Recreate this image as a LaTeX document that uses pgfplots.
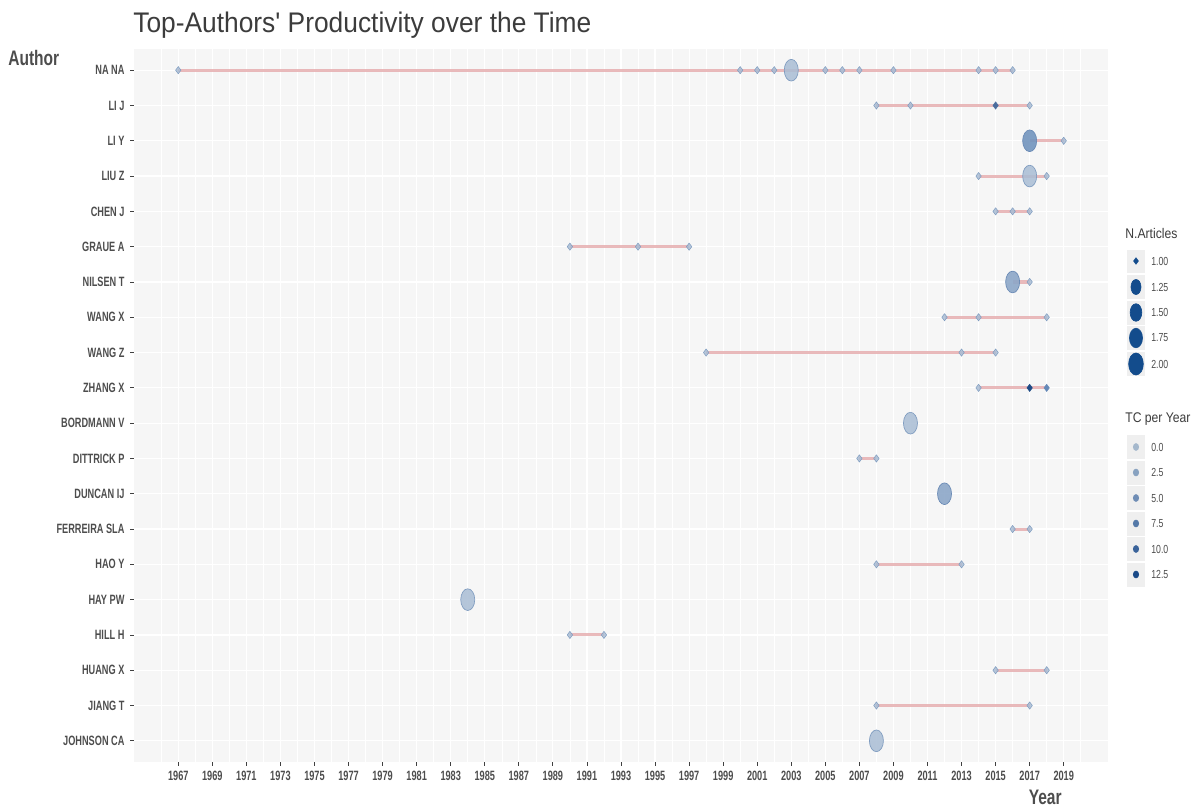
\documentclass[border=0pt]{standalone}
\usepackage{pgfplots}
\pgfplotsset{compat=1.18}
\usepackage{fontspec}
\setmainfont{Liberation Sans}
\newfontface\tickfont[FakeStretch=0.68]{Liberation Sans Bold}
\newfontface\axtitlefont[FakeStretch=0.74]{Liberation Sans Bold}
\newfontface\titlefont[FakeStretch=0.93,Ligatures=TeXOff]{Liberation Sans}
\newfontface\legtitlefont[FakeStretch=0.87]{Liberation Sans}
\newfontface\leglabfont[FakeStretch=0.75]{Liberation Sans}
\definecolor{panelbg}{HTML}{F6F6F6}
\definecolor{tickgray}{HTML}{4D4D4D}
\definecolor{titlegray}{HTML}{3C3C3C}
\definecolor{segpink}{HTML}{E6AEB0}
\definecolor{ptlight}{HTML}{A9BDD4}
\definecolor{ptlightb}{HTML}{7F9CC0}
\definecolor{ptmed}{HTML}{8CA7C8}
\definecolor{ptmedb}{HTML}{6A8AB5}
\definecolor{ptmedd}{HTML}{7395BE}
\definecolor{ptdarka}{HTML}{4B6D9E}
\definecolor{ptdarkb}{HTML}{1E4B86}
\definecolor{ptdarkc}{HTML}{6589B8}
\definecolor{legblue}{HTML}{134C8C}
\definecolor{keybg}{HTML}{EFEFEF}
\definecolor{tca}{HTML}{A5B8CC}
\definecolor{tcb}{HTML}{88A2C0}
\definecolor{tcc}{HTML}{6F8DB5}
\definecolor{tcd}{HTML}{5479A8}
\definecolor{tce}{HTML}{3A639A}
\definecolor{tcf}{HTML}{1A4A88}
\begin{document}
\begin{tikzpicture}[x=0.6pt,y=0.6pt]
\useasboundingbox (0,0) rectangle (1201,806);
\begin{axis}[
  at={(80.4pt,26.4pt)}, anchor=south west,
  scale only axis, width=584.4pt, height=427.8pt,
  xmin=1964.4, xmax=2021.6,
  ymin=-0.6, ymax=19.6, y dir=reverse,
  xtick={1967,1969,...,2019},
  minor xtick={1966,1968,...,2020},
  ytick={0,...,19},
  yticklabels={NA NA,LI J,LI Y,LIU Z,CHEN J,GRAUE A,NILSEN T,WANG X,WANG Z,ZHANG X,BORDMANN V,DITTRICK P,DUNCAN IJ,FERREIRA SLA,HAO Y,HAY PW,HILL H,HUANG X,JIANG T,JOHNSON CA},
  grid=both,
  major grid style={white, line width=0.7pt},
  minor grid style={white, line width=0.35pt},
  axis background/.style={fill=panelbg},
  axis line style={draw=none},
  tick align=outside,
  major tick length=2.2pt,
  minor tick length=0pt,
  tick style={color=black!75, line width=0.5pt},
  xtick pos=left, ytick pos=left,
  xticklabel style={font=\tickfont\fontsize{8.1}{9}\selectfont, text=tickgray, /pgf/number format/1000 sep={}, /pgf/number format/assume math mode=true},
  yticklabel style={font=\tickfont\fontsize{8.1}{9}\selectfont, text=tickgray},
  unbounded coords=jump,
]
% segments first to last year
\addplot[segpink, line width=1.85pt, opacity=0.85, no markers] coordinates {
(1967,0) (2016,0) (2016,nan)
(2008,1) (2017,1) (2017,nan)
(2017,2) (2019,2) (2019,nan)
(2014,3) (2018,3) (2018,nan)
(2015,4) (2017,4) (2017,nan)
(1990,5) (1997,5) (1997,nan)
(2016,6) (2017,6) (2017,nan)
(2012,7) (2018,7) (2018,nan)
(1998,8) (2015,8) (2015,nan)
(2014,9) (2018,9) (2018,nan)
(2007,11) (2008,11) (2008,nan)
(2016,13) (2017,13) (2017,nan)
(2008,14) (2013,14) (2013,nan)
(1990,16) (1992,16) (1992,nan)
(2015,17) (2018,17) (2018,nan)
(2008,18) (2017,18)
};
% one article, low TC per year
\addplot[only marks, mark=diamond*, mark size=2.16pt, mark options={fill=ptlight, draw=ptlightb, line width=0.3pt, fill opacity=0.85}] coordinates {
(1967,0) (2000,0) (2001,0) (2002,0) (2005,0) (2006,0) (2007,0) (2009,0) (2014,0) (2015,0) (2016,0)
(2008,1) (2010,1) (2017,1)
(2019,2)
(2014,3) (2018,3)
(2015,4) (2016,4) (2017,4)
(1990,5) (1994,5) (1997,5)
(2017,6)
(2012,7) (2014,7) (2018,7)
(1998,8) (2013,8) (2015,8)
(2014,9)
(2007,11) (2008,11)
(2016,13) (2017,13)
(2008,14) (2013,14)
(1990,16) (1992,16)
(2015,17) (2018,17)
(2008,18) (2017,18)
};
% one article, higher TC per year
\addplot[only marks, mark=diamond*, mark size=2.16pt, mark options={fill=ptdarka, draw=ptdarka, line width=0.3pt}] coordinates {(2015,1)};
\addplot[only marks, mark=diamond*, mark size=2.16pt, mark options={fill=ptdarkb, draw=ptdarkb, line width=0.3pt}] coordinates {(2017,9)};
\addplot[only marks, mark=diamond*, mark size=2.16pt, mark options={fill=ptdarkc, draw=ptdarkc, line width=0.3pt}] coordinates {(2018,9)};
% two articles
\addplot[only marks, mark=*, mark size=4.2pt, mark options={yscale=1.55, fill=ptlight, draw=ptlightb, line width=0.4pt, fill opacity=0.85}] coordinates {
(2003,0) (2017,3) (2010,10) (1984,15) (2008,19)
};
\addplot[only marks, mark=*, mark size=4.2pt, mark options={yscale=1.55, fill=ptmed, draw=ptmedb, line width=0.4pt, fill opacity=0.9}] coordinates {
(2016,6) (2012,12)
};
\addplot[only marks, mark=*, mark size=4.2pt, mark options={yscale=1.55, fill=ptmedd, draw=ptmedb, line width=0.4pt, fill opacity=0.9}] coordinates {
(2017,2)
};
\end{axis}
% legend
\begin{axis}[
  at={(672pt,129.6pt)}, anchor=south west,
  scale only axis, width=48pt, height=222pt,
  xmin=1120, xmax=1200, ymin=220, ymax=590, y dir=reverse,
  hide axis, clip=false,
]
\node[anchor=west, inner sep=0, font=\legtitlefont\fontsize{8.4}{10}\selectfont, text=titlegray] at (axis cs:1125,233) {N.Articles};
\fill[keybg] (axis cs:1127,249.5) rectangle (axis cs:1145,273);
\fill[keybg] (axis cs:1127,275) rectangle (axis cs:1145,299);
\fill[keybg] (axis cs:1127,300.5) rectangle (axis cs:1145,324.5);
\fill[keybg] (axis cs:1127,326) rectangle (axis cs:1145,350);
\fill[keybg] (axis cs:1127,351.5) rectangle (axis cs:1145,376);
\addplot[only marks, mark=diamond*, mark size=1.9pt, color=legblue] coordinates {(1136,261)};
\addplot[only marks, mark=*, mark size=3.0pt, mark options={yscale=1.5}, color=legblue] coordinates {(1136,287)};
\addplot[only marks, mark=*, mark size=3.5pt, mark options={yscale=1.5}, color=legblue] coordinates {(1136,312.5)};
\addplot[only marks, mark=*, mark size=3.9pt, mark options={yscale=1.5}, color=legblue] coordinates {(1136,338)};
\addplot[only marks, mark=*, mark size=4.4pt, mark options={yscale=1.5}, color=legblue] coordinates {(1136,364)};
\node[anchor=west, inner sep=0, font=\leglabfont\fontsize{7}{8}\selectfont, text=tickgray] at (axis cs:1151,261) {1.00};
\node[anchor=west, inner sep=0, font=\leglabfont\fontsize{7}{8}\selectfont, text=tickgray] at (axis cs:1151,287) {1.25};
\node[anchor=west, inner sep=0, font=\leglabfont\fontsize{7}{8}\selectfont, text=tickgray] at (axis cs:1151,312.5) {1.50};
\node[anchor=west, inner sep=0, font=\leglabfont\fontsize{7}{8}\selectfont, text=tickgray] at (axis cs:1151,338) {1.75};
\node[anchor=west, inner sep=0, font=\leglabfont\fontsize{7}{8}\selectfont, text=tickgray] at (axis cs:1151,364) {2.00};
\node[anchor=west, inner sep=0, font=\legtitlefont\fontsize{8.4}{10}\selectfont, text=titlegray] at (axis cs:1125,419) {TC per Year};
\fill[keybg] (axis cs:1127,435) rectangle (axis cs:1145,459);
\fill[keybg] (axis cs:1127,460.5) rectangle (axis cs:1145,484.5);
\fill[keybg] (axis cs:1127,486) rectangle (axis cs:1145,510);
\fill[keybg] (axis cs:1127,511.5) rectangle (axis cs:1145,535.5);
\fill[keybg] (axis cs:1127,537) rectangle (axis cs:1145,561);
\fill[keybg] (axis cs:1127,562.5) rectangle (axis cs:1145,586.5);
\addplot[only marks, mark=*, mark size=1.6pt, mark options={yscale=1.3}, color=tca] coordinates {(1136,447)};
\addplot[only marks, mark=*, mark size=1.6pt, mark options={yscale=1.3}, color=tcb] coordinates {(1136,472.5)};
\addplot[only marks, mark=*, mark size=1.6pt, mark options={yscale=1.3}, color=tcc] coordinates {(1136,498)};
\addplot[only marks, mark=*, mark size=1.6pt, mark options={yscale=1.3}, color=tcd] coordinates {(1136,523.5)};
\addplot[only marks, mark=*, mark size=1.6pt, mark options={yscale=1.3}, color=tce] coordinates {(1136,549)};
\addplot[only marks, mark=*, mark size=1.6pt, mark options={yscale=1.3}, color=tcf] coordinates {(1136,574.5)};
\node[anchor=west, inner sep=0, font=\leglabfont\fontsize{7}{8}\selectfont, text=tickgray] at (axis cs:1151,447) {0.0};
\node[anchor=west, inner sep=0, font=\leglabfont\fontsize{7}{8}\selectfont, text=tickgray] at (axis cs:1151,472.5) {2.5};
\node[anchor=west, inner sep=0, font=\leglabfont\fontsize{7}{8}\selectfont, text=tickgray] at (axis cs:1151,498) {5.0};
\node[anchor=west, inner sep=0, font=\leglabfont\fontsize{7}{8}\selectfont, text=tickgray] at (axis cs:1151,523.5) {7.5};
\node[anchor=west, inner sep=0, font=\leglabfont\fontsize{7}{8}\selectfont, text=tickgray] at (axis cs:1151,549) {10.0};
\node[anchor=west, inner sep=0, font=\leglabfont\fontsize{7}{8}\selectfont, text=tickgray] at (axis cs:1151,574.5) {12.5};
\end{axis}
\node[anchor=base west, inner sep=0, font=\titlefont\fontsize{17}{20}\selectfont, text=titlegray] at (133,773) {Top-Authors' Productivity over the Time};
\node[anchor=west, inner sep=0, font=\axtitlefont\fontsize{12.6}{15}\selectfont, text=tickgray] at (8,748) {Author};
\node[anchor=east, inner sep=0, font=\axtitlefont\fontsize{12.6}{15}\selectfont, text=tickgray] at (1062,9) {Year};
\end{tikzpicture}
\end{document}
